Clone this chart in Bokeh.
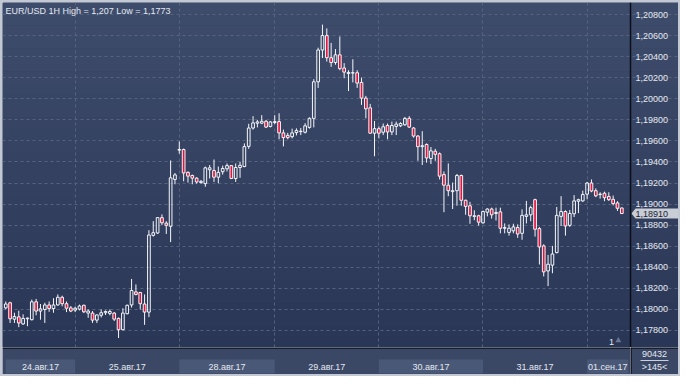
from bokeh.plotting import figure
from bokeh.models import (Range1d, FixedTicker, Grid, BoxAnnotation, Label, Span,
                          ColumnDataSource)
from bokeh.layouts import column, row
from bokeh.embed import file_html
from bokeh.resources import INLINE

# ---------------- data (EUR/USD, 1H candles) ----------------
opens = [
    1.18014, 1.18063, 1.17907, 1.17929, 1.17862, 1.17911, 1.17902, 1.18072, 1.17984, 1.17999,
    1.18042, 1.18008, 1.18042, 1.18115, 1.18054, 1.18014, 1.17993, 1.18002, 1.18039, 1.17965,
    1.17965, 1.17898, 1.17944, 1.17968, 1.17962, 1.17965, 1.17914, 1.17807, 1.17959, 1.18042,
    1.18166, 1.18160, 1.18051, 1.17974, 1.18703, 1.18725, 1.18871, 1.18819, 1.18789, 1.19234,
    1.19512, 1.19518, 1.19301, 1.19271, 1.19246, 1.19204, 1.19194, 1.19326, 1.19319, 1.19255,
    1.19307, 1.19335, 1.19365, 1.19243, 1.19347, 1.19356, 1.19548, 1.19722, 1.19768, 1.19768,
    1.19786, 1.19737, 1.19774, 1.19783, 1.19676, 1.19652, 1.19640, 1.19679, 1.19688, 1.19682,
    1.19728, 1.19814, 1.20161, 1.20463, 1.20600, 1.20390, 1.20344, 1.20417, 1.20292, 1.20240,
    1.20244, 1.20247, 1.20155, 1.20006, 1.19914, 1.19673, 1.19716, 1.19682, 1.19746, 1.19685,
    1.19737, 1.19743, 1.19753, 1.19814, 1.19722, 1.19646, 1.19545, 1.19566, 1.19432, 1.19502,
    1.19478, 1.19280, 1.19179, 1.19118, 1.19127, 1.19271, 1.19036, 1.18984, 1.18889, 1.18889,
    1.18822, 1.18923, 1.18953, 1.18911, 1.18926, 1.18770, 1.18731, 1.18746, 1.18777, 1.18722,
    1.18883, 1.18898, 1.19042, 1.18767, 1.18603, 1.18365, 1.18420, 1.18539, 1.18883, 1.18929,
    1.18798, 1.18908, 1.19027, 1.19030, 1.19094, 1.19200, 1.19127, 1.19094, 1.19103, 1.19072,
    1.19045, 1.19011, 1.18963]
closes = [
    1.18051, 1.17911, 1.17932, 1.17871, 1.17914, 1.17917, 1.18072, 1.17984, 1.18005, 1.18042,
    1.18008, 1.18042, 1.18115, 1.18054, 1.18011, 1.17984, 1.18011, 1.18032, 1.17977, 1.17984,
    1.17898, 1.17947, 1.17968, 1.17980, 1.17980, 1.17907, 1.17807, 1.17965, 1.18039, 1.18179,
    1.18142, 1.18054, 1.17974, 1.18706, 1.18728, 1.18871, 1.18822, 1.18798, 1.19249, 1.19277,
    1.19518, 1.19295, 1.19265, 1.19246, 1.19210, 1.19216, 1.19344, 1.19344, 1.19255, 1.19301,
    1.19338, 1.19365, 1.19243, 1.19347, 1.19368, 1.19545, 1.19722, 1.19771, 1.19780, 1.19786,
    1.19731, 1.19780, 1.19783, 1.19676, 1.19631, 1.19631, 1.19676, 1.19698, 1.19692, 1.19743,
    1.19814, 1.20161, 1.20463, 1.20600, 1.20390, 1.20344, 1.20417, 1.20286, 1.20253, 1.20250,
    1.20247, 1.20149, 1.20006, 1.19905, 1.19673, 1.19716, 1.19673, 1.19734, 1.19685, 1.19746,
    1.19759, 1.19765, 1.19814, 1.19731, 1.19646, 1.19545, 1.19554, 1.19438, 1.19505, 1.19472,
    1.19265, 1.19179, 1.19127, 1.19127, 1.19271, 1.19036, 1.18978, 1.18889, 1.18883, 1.18828,
    1.18929, 1.18953, 1.18898, 1.18920, 1.18770, 1.18777, 1.18770, 1.18783, 1.18716, 1.18893,
    1.18898, 1.18966, 1.18761, 1.18593, 1.18356, 1.18429, 1.18526, 1.18893, 1.18929, 1.18792,
    1.18911, 1.19030, 1.19042, 1.19091, 1.19200, 1.19124, 1.19078, 1.19091, 1.19060, 1.19042,
    1.19005, 1.18960, 1.18910]
highs = [
    1.18075, 1.18072, 1.17968, 1.17987, 1.17953, 1.17923, 1.18093, 1.18099, 1.18051, 1.18063,
    1.18075, 1.18106, 1.18142, 1.18130, 1.18075, 1.18032, 1.18026, 1.18045, 1.18045, 1.17999,
    1.17984, 1.17953, 1.17999, 1.17990, 1.17999, 1.17974, 1.17923, 1.18011, 1.18045, 1.18289,
    1.18237, 1.18166, 1.18142, 1.18752, 1.18838, 1.18877, 1.18902, 1.18838, 1.19414, 1.19295,
    1.19594, 1.19527, 1.19310, 1.19280, 1.19255, 1.19228, 1.19356, 1.19371, 1.19423, 1.19356,
    1.19365, 1.19386, 1.19371, 1.19386, 1.19402, 1.19576, 1.19762, 1.19835, 1.19798, 1.19844,
    1.19798, 1.19789, 1.19844, 1.19862, 1.19707, 1.19676, 1.19716, 1.19719, 1.19722, 1.19768,
    1.19823, 1.20186, 1.20485, 1.20704, 1.20668, 1.20530, 1.20472, 1.20591, 1.20338, 1.20271,
    1.20375, 1.20271, 1.20201, 1.20027, 1.19951, 1.19789, 1.19737, 1.19765, 1.19765, 1.19783,
    1.19783, 1.19777, 1.19826, 1.19835, 1.19731, 1.19655, 1.19692, 1.19576, 1.19542, 1.19524,
    1.19490, 1.19310, 1.19386, 1.19204, 1.19286, 1.19280, 1.19042, 1.19021, 1.18941, 1.18898,
    1.18938, 1.18960, 1.18966, 1.18966, 1.18966, 1.18816, 1.18807, 1.18813, 1.18807, 1.18950,
    1.19030, 1.18984, 1.19051, 1.18783, 1.18618, 1.18517, 1.18603, 1.18972, 1.19075, 1.18941,
    1.18944, 1.19085, 1.19051, 1.19127, 1.19210, 1.19234, 1.19149, 1.19112, 1.19118, 1.19112,
    1.19081, 1.19027, 1.18966]
lows = [
    1.17999, 1.17871, 1.17871, 1.17831, 1.17853, 1.17840, 1.17895, 1.17944, 1.17902, 1.17871,
    1.17977, 1.17968, 1.18035, 1.18029, 1.17974, 1.17974, 1.17974, 1.17990, 1.17965, 1.17920,
    1.17871, 1.17871, 1.17923, 1.17947, 1.17944, 1.17889, 1.17728, 1.17801, 1.17953, 1.18017,
    1.18133, 1.17999, 1.17853, 1.17926, 1.18691, 1.18716, 1.18801, 1.18716, 1.18639, 1.19188,
    1.19478, 1.19216, 1.19204, 1.19188, 1.19194, 1.19194, 1.19164, 1.19243, 1.19210, 1.19197,
    1.19280, 1.19310, 1.19237, 1.19210, 1.19249, 1.19350, 1.19524, 1.19707, 1.19728, 1.19759,
    1.19722, 1.19728, 1.19759, 1.19615, 1.19548, 1.19615, 1.19624, 1.19652, 1.19655, 1.19670,
    1.19716, 1.19728, 1.20103, 1.20387, 1.20353, 1.20302, 1.20323, 1.20271, 1.20195, 1.20073,
    1.20155, 1.20103, 1.19942, 1.19814, 1.19667, 1.19454, 1.19624, 1.19655, 1.19615, 1.19655,
    1.19655, 1.19731, 1.19743, 1.19722, 1.19631, 1.19411, 1.19371, 1.19393, 1.19380, 1.19411,
    1.19234, 1.18923, 1.19075, 1.18953, 1.18984, 1.18984, 1.18898, 1.18813, 1.18847, 1.18795,
    1.18813, 1.18883, 1.18862, 1.18844, 1.18722, 1.18722, 1.18700, 1.18722, 1.18679, 1.18661,
    1.18816, 1.18837, 1.18691, 1.18426, 1.18313, 1.18221, 1.18343, 1.18532, 1.18792, 1.18700,
    1.18783, 1.18877, 1.18914, 1.19021, 1.19045, 1.19112, 1.19066, 1.19051, 1.19027, 1.19030,
    1.18987, 1.18935, 1.18905]

price_ticks = [1.178, 1.180, 1.182, 1.184, 1.186, 1.188, 1.190, 1.192,
               1.194, 1.196, 1.198, 1.200, 1.202, 1.204, 1.206, 1.208]
day_edges = [0, 16, 40, 62, 86, 110, 134, 143.5]      # candle index where each day starts
day_labels = ["24.авг.17", "25.авг.17", "28.авг.17", "29.авг.17",
              "30.авг.17", "31.авг.17", "01.сен.17"]
title_text = "EUR/USD 1H High = 1,207 Low = 1,1773"
volume_text = "90432"
bars_text = ">145<"
scale_text = "1"

# ---------------- styling ----------------
FONT = "Liberation Sans"
FS = "9px"
TXT = "#e3e8f1"
GRID = "#56637f"
RED = "#e0143c"
WHITE = "#f4f6fa"
DARK = "#0b0f1a"
PANEL = "#3a4765"
HILITE = "#4a5877"
TAG = "#c8cdd6"

FRAME_W, PANEL_W, MAIN_H, STRIP_H = 628, 48, 345, 27
X0, X1 = -0.75, 144.0
Y0, Y1 = 1.17638, 1.20914
ppx = FRAME_W / (X1 - X0)             # pixels per candle
XR = X1 + PANEL_W / ppx               # right end incl. price-scale panel
upx = (Y1 - Y0) / MAIN_H              # price per pixel


def fmt(v):
    return ("%.5f" % v).replace(".", ",")


n = len(opens)
idx = list(range(n))
body_top = [max(o, c) for o, c in zip(opens, closes)]
body_bot = [min(o, c) for o, c in zip(opens, closes)]
fills = [RED if c < o else None for o, c in zip(opens, closes)]
src = ColumnDataSource(dict(x=idx, o=opens, c=closes, h=highs, l=lows,
                            bt=body_top, bb=body_bot, fill=fills))

p = figure(width=FRAME_W + PANEL_W, height=MAIN_H, x_range=Range1d(X0, XR),
           y_range=Range1d(Y0, Y1), x_axis_location=None, y_axis_location=None,
           output_backend="svg", toolbar_location=None,
           min_border_left=0, min_border_right=0, min_border_top=0, min_border_bottom=0,
           background_fill_color="#34415f", border_fill_color="#34415f",
           outline_line_color=None)
for g in p.grid:
    g.visible = False

# vertical gradient background
nb = 30
top_c = (62, 76, 107)
bot_c = (42, 54, 85)
for k in range(nb):
    t = k / (nb - 1)
    col = tuple(int(round(top_c[j] + (bot_c[j] - top_c[j]) * t)) for j in range(3))
    hi = Y1 - (Y1 - Y0) * k / nb
    lo = Y1 - (Y1 - Y0) * (k + 1) / nb
    p.add_layout(BoxAnnotation(bottom=lo - 1e-6, top=hi + 1e-6,
                               fill_color="#%02x%02x%02x" % col, fill_alpha=1.0,
                               line_color=None, level="image"))

# grids (dashed), limited to the chart area
p.add_layout(Grid(dimension=1, ticker=FixedTicker(ticks=price_ticks), bounds=(X0, X1),
                  grid_line_color=GRID, grid_line_dash="3 3", grid_line_width=1))
p.add_layout(Grid(dimension=0, ticker=FixedTicker(ticks=day_edges[1:-1]),
                  grid_line_color=GRID, grid_line_dash="3 3", grid_line_width=1))

# price scale on the right
p.add_layout(Span(location=X1, dimension="height", line_color=DARK, line_width=1.5))
p.text(x=[X1] * len(price_ticks), y=price_ticks, text=[fmt(v) for v in price_ticks],
       x_offset=5, text_align="left", text_baseline="middle",
       text_font={"value": FONT}, text_font_size={"value": FS}, text_color=TXT)

# candles
p.segment(x0="x", y0="h", x1="x", y1="bt", source=src, line_color=WHITE, line_width=1)
p.segment(x0="x", y0="bb", x1="x", y1="l", source=src, line_color=WHITE, line_width=1)
p.vbar(x="x", top="bt", bottom="bb", width=0.62, source=src,
       fill_color="fill", line_color=WHITE, line_width=1)

# texts inside the chart
p.add_layout(Label(x=X0, y=Y1, x_offset=3, y_offset=-3, text=title_text,
                   text_baseline="top", text_font=FONT, text_font_size=FS,
                   text_color=TXT))
p.add_layout(Label(x=139.6, y=1.17690, text=scale_text, text_baseline="middle",
                   text_align="center", text_font=FONT, text_font_size=FS, text_color=TXT))
p.scatter(x=[141.2], y=[1.17705], marker="triangle", size=6,
          fill_color="#6a7690", line_color=None)

# current price tag
last = closes[-1]
tag_l = X1 + 5 / ppx
p.patch(x=[X1 + 1 / ppx, tag_l, XR, XR, tag_l],
        y=[last, last + 5 * upx, last + 5 * upx, last - 5 * upx, last - 5 * upx],
        fill_color=TAG, line_color=None)
p.text(x=[X1], y=[last], text=[fmt(last)], x_offset=5, text_align="left",
       text_baseline="middle", text_font={"value": FONT}, text_font_size={"value": FS},
       text_color="#1b2233")

# ---------------- bottom time strip ----------------
p2 = figure(width=FRAME_W, height=STRIP_H, x_range=Range1d(X0, X1), y_range=Range1d(0, 27),
            x_axis_location=None, y_axis_location=None,
            output_backend="svg", toolbar_location=None,
            min_border_left=0, min_border_right=0, min_border_top=0, min_border_bottom=0,
            background_fill_color=PANEL, border_fill_color=PANEL, outline_line_color=None)
for g in p2.grid:
    g.visible = False
hl_left = day_edges[0:-1:2]
hl_right = (day_edges[1::2] + [day_edges[-1]])[:len(hl_left)]
p2.quad(left=hl_left, right=hl_right, bottom=1, top=15, fill_color=HILITE, line_color=None)
centers = [(a + b) / 2 for a, b in zip(day_edges[:-1], day_edges[1:])]
p2.text(x=centers, y=[8] * len(centers), text=day_labels, text_align="center",
        text_baseline="middle", text_font={"value": FONT}, text_font_size={"value": FS},
        text_color=TXT)
p2.add_layout(Span(location=26.5, dimension="width", line_color=DARK, line_width=1.5))

p3 = figure(width=PANEL_W, height=STRIP_H, x_range=Range1d(0, 48), y_range=Range1d(0, 27),
            x_axis_location=None, y_axis_location=None,
            output_backend="svg", toolbar_location=None,
            min_border_left=0, min_border_right=0, min_border_top=0, min_border_bottom=0,
            background_fill_color=PANEL, border_fill_color=PANEL, outline_line_color=None)
for g in p3.grid:
    g.visible = False
p3.add_layout(Span(location=26.5, dimension="width", line_color=DARK, line_width=1.5))
p3.add_layout(Span(location=0.5, dimension="height", line_color=DARK, line_width=1.5))
p3.text(x=[24, 24], y=[20.5, 7.5], text=[volume_text, bars_text], text_align="center",
        text_baseline="middle", text_font={"value": FONT}, text_font_size={"value": FS},
        text_color=TXT)
p3.segment(x0=[10], y0=[14], x1=[38], y1=[14], line_color="#c9d0dc", line_width=1)

layout = column(p, row(p2, p3), styles={"border": "2px solid #c2c9d5"})

open("out.html", "w").write(file_html(layout, INLINE))
